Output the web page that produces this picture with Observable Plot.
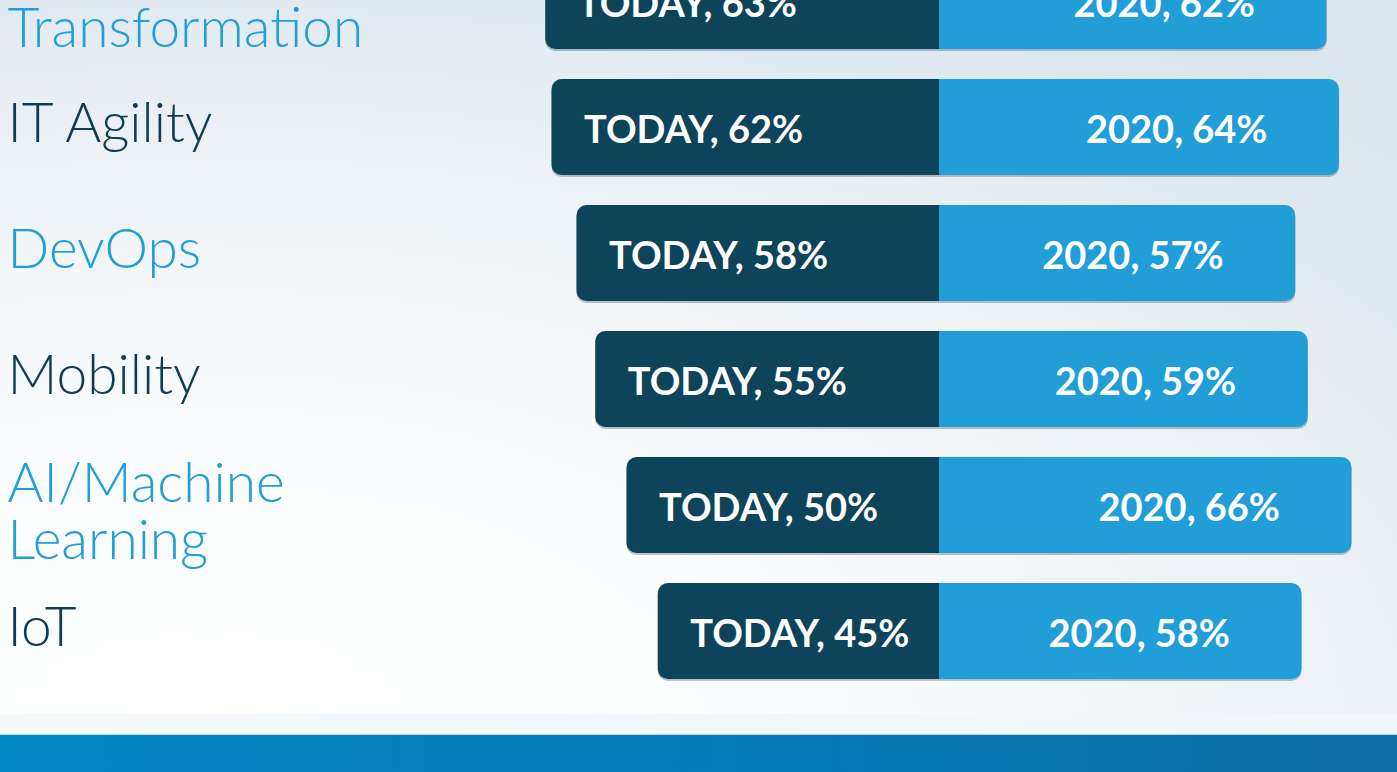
<!DOCTYPE html>
<html>
<head>
<meta charset="utf-8">
<script src="https://cdn.jsdelivr.net/npm/d3@7"></script>
<script src="https://cdn.jsdelivr.net/npm/@observablehq/plot@0.6"></script>
<style>
  html, body { margin: 0; padding: 0; }
  #wrap {
    position: relative; width: 1397px; height: 772px; overflow: hidden;
    background: radial-gradient(ellipse 120% 110% at 15% 95%, #ffffff 0%, #fafcfd 35%, #eef3f7 65%, #dae5ed 100%);
  }
  #chart { position: absolute; left: 0; top: 0; }
  #band { position: absolute; left: 0; top: 714px; width: 1397px; height: 20px; background: linear-gradient(90deg, #f5f9fc, #f0f6fb); border-bottom: 1px solid #c9d5dd; }
  #footer { position: absolute; left: 0; top: 735px; width: 1397px; height: 37px; background: linear-gradient(90deg, #0387c3 0%, #0579b6 60%, #0d6ba4 100%); }
</style>
</head>
<body>
<div id="wrap">
  <div id="chart"></div>
  <div id="band"></div>
  <div id="footer"></div>
</div>
<script>
const categories = ["Transformation", "IT Agility", "DevOps", "Mobility", "AI/Machine Learning", "IoT"];
const labels = ["Transformation", "IT Agility", "DevOps", "Mobility", "AI/Machine\nLearning", "IoT"];
const todayValues = [63, 62, 58, 55, 50, 45];
const values2020 = [62, 64, 57, 59, 66, 58];
const labelColors = ["#229fd9", "#0d3d52", "#229fd9", "#0d3d52", "#229fd9", "#0d3d52"];

const DARK = "#0e4459";
const LIGHT = "#219dd8";
const FONT = "Lato, 'Open Sans', sans-serif";

const rows = categories.map((c, i) => ({
  cat: c, label: labels[i], today: todayValues[i], future: values2020[i], color: labelColors[i], idx: i
}));

const labelStyle = {
  y: "cat", frameAnchor: "left", text: "label", dx: 7,
  textAnchor: "start", fill: "color", fontSize: 55, fontWeight: 300, lineHeight: 1.04, fontFamily: FONT
};

const chart = Plot.plot({
  width: 1397,
  height: 714,
  marginLeft: 0, marginRight: 0, marginTop: 0, marginBottom: 0,
  style: { background: "transparent", fontFamily: FONT },
  x: { domain: [-150.24, 73.28], axis: null },
  y: { domain: categories, range: [-80, 711], paddingInner: 0.2417, paddingOuter: 0.2417, axis: null },
  color: { type: "identity" },
  marks: [
    // soft shadow under each bar
    Plot.barX(rows, { y: "cat", x1: d => -d.today, x2: "future", fill: "#3d5566", fillOpacity: 0.35, rx: 10, dy: 2 }),
    Plot.barX(rows, { y: "cat", x1: d => -d.today, x2: d => 0, fill: DARK, rx: 10 }),
    Plot.barX(rows, { y: "cat", x1: d => -d.today / 2, x2: d => 0, fill: DARK }),
    Plot.barX(rows, { y: "cat", x1: d => 0, x2: "future", fill: LIGHT, rx: 10 }),
    Plot.barX(rows, { y: "cat", x1: d => 0, x2: d => d.future / 2, fill: LIGHT }),
    Plot.text(rows, {
      y: "cat", x: d => -d.today, text: d => `TODAY, ${d.today}%`,
      textAnchor: "start", dx: 32, dy: 3.5, fill: "white", fontSize: 38, fontWeight: 700, fontFamily: FONT
    }),
    Plot.text(rows, {
      y: "cat", x: "future", text: d => `2020, ${d.future}%`,
      textAnchor: "end", dx: -72, dy: 3.5, fill: "white", fontSize: 38, fontWeight: 700, fontFamily: FONT
    }),
    // first row: only the lower line of its label is visible (the row is cut at the top)
    Plot.text(rows, { ...labelStyle, filter: d => d.idx === 0, dy: 27 }),
    // single-line labels
    Plot.text(rows, { ...labelStyle, filter: d => d.idx > 0 && !d.label.includes("\n"), dy: -4 }),
    // two-line labels
    Plot.text(rows, { ...labelStyle, filter: d => d.label.includes("\n"), dy: 7 })
  ]
});
document.getElementById("chart").appendChild(chart);
</script>
</body>
</html>
